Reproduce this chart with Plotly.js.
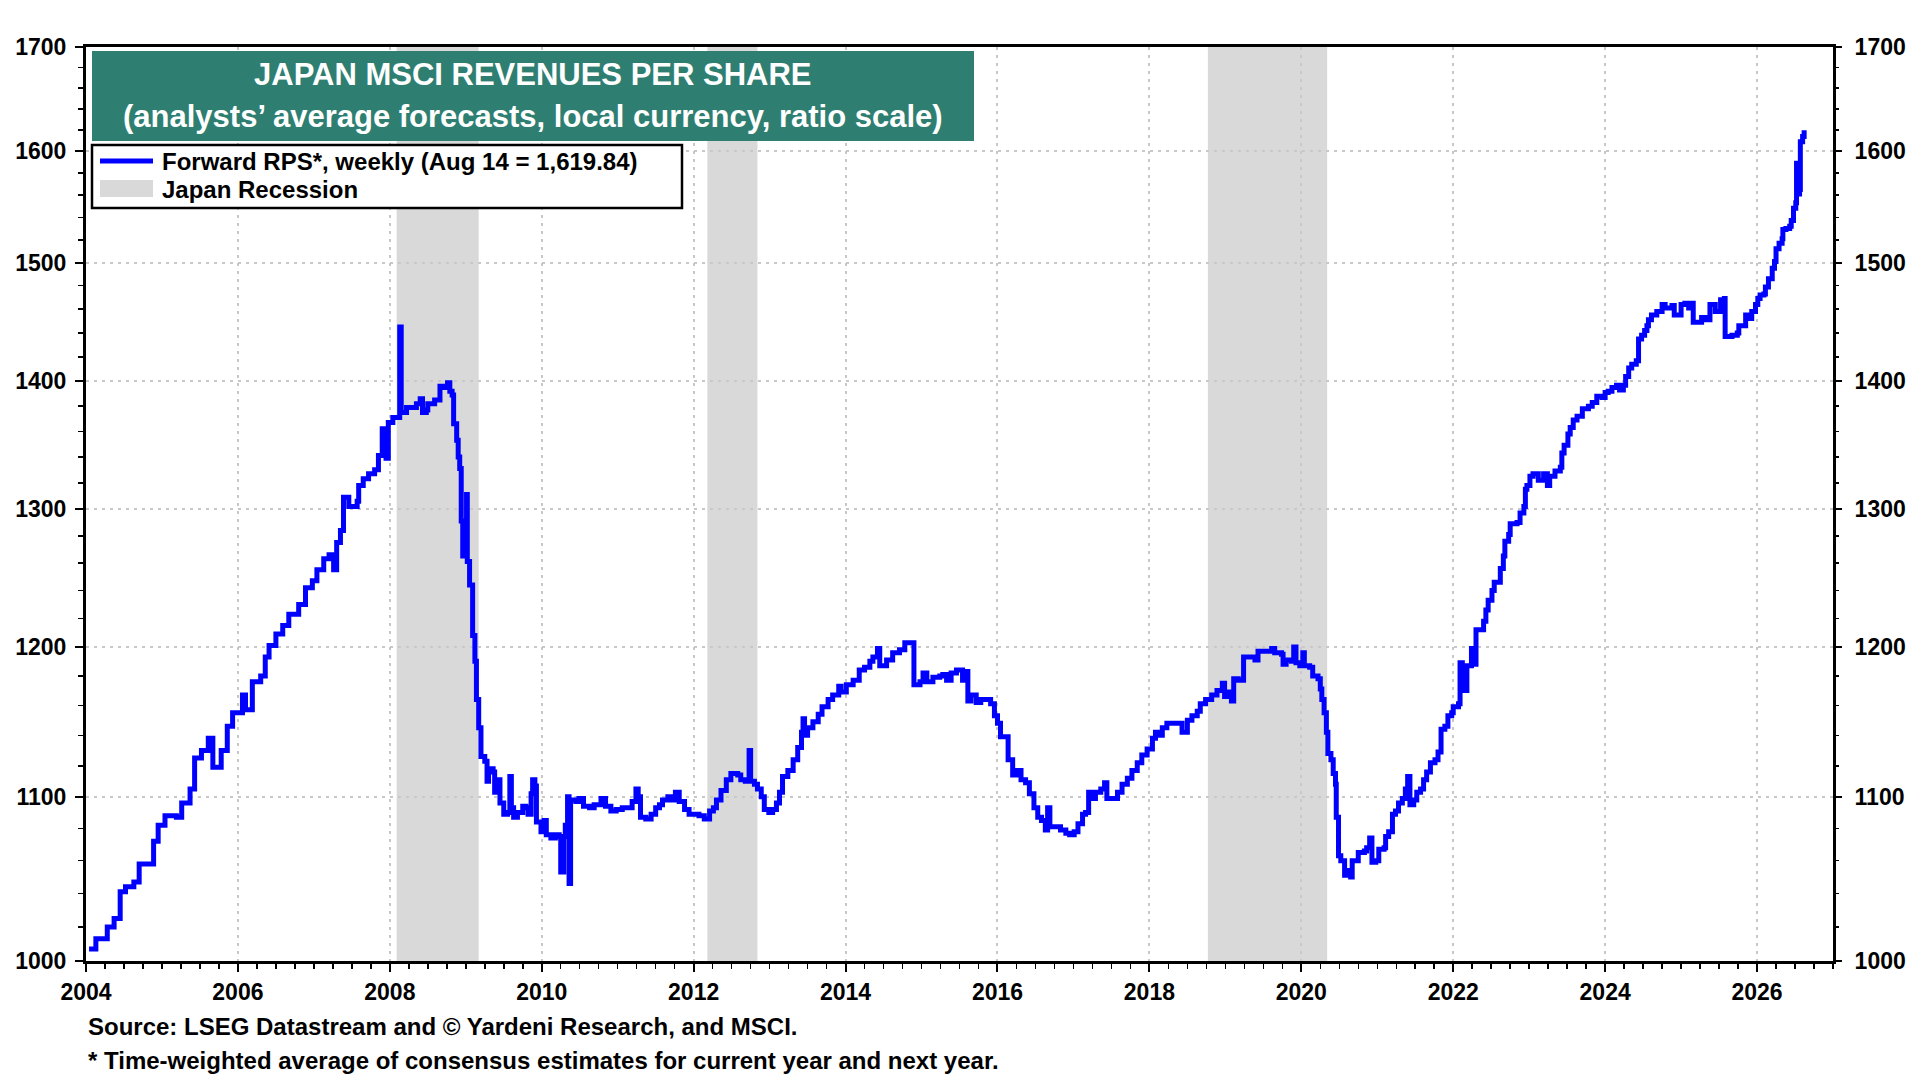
<!DOCTYPE html>
<html>
<head>
<meta charset="utf-8">
<script src="https://cdn.plot.ly/plotly-3.0.1.min.js"></script>
<style>
	body { margin: 0; background: #ffffff; }
	#chart { width: 1920px; height: 1080px; }
</style>
</head>
<body>
<div id="chart"></div>
<script>
// Forward RPS (decimal year, value)
var years = [
	2004.04, 2004.13, 2004.28, 2004.37, 2004.45, 2004.52, 2004.63, 2004.70, 2004.89, 2004.95,
	2005.04, 2005.19, 2005.26, 2005.37, 2005.43, 2005.52, 2005.61, 2005.67, 2005.78, 2005.86,
	2005.93, 2006.06, 2006.10, 2006.19, 2006.30, 2006.36, 2006.41, 2006.50, 2006.59, 2006.67,
	2006.80, 2006.89, 2006.98, 2007.04, 2007.13, 2007.20, 2007.26, 2007.30, 2007.35, 2007.39,
	2007.46, 2007.57, 2007.59, 2007.65, 2007.72, 2007.80, 2007.85, 2007.90, 2007.95, 2007.98,
	2008.04, 2008.08, 2008.13, 2008.15, 2008.22, 2008.35, 2008.40, 2008.43, 2008.48, 2008.50,
	2008.59, 2008.66, 2008.71, 2008.76, 2008.79, 2008.82, 2008.84, 2008.88, 2008.90, 2008.92,
	2008.94, 2008.96, 2008.98, 2009.01, 2009.02, 2009.05, 2009.09, 2009.12, 2009.14, 2009.17,
	2009.20, 2009.25, 2009.28, 2009.30, 2009.36, 2009.38, 2009.42, 2009.45, 2009.50, 2009.55,
	2009.58, 2009.60, 2009.63, 2009.68, 2009.75, 2009.79, 2009.82, 2009.86, 2009.88, 2009.91,
	2009.93, 2009.99, 2010.03, 2010.06, 2010.12, 2010.18, 2010.23, 2010.25, 2010.29, 2010.31,
	2010.34, 2010.36, 2010.38, 2010.45, 2010.49, 2010.55, 2010.63, 2010.69, 2010.78, 2010.84,
	2010.91, 2010.98, 2011.06, 2011.13, 2011.19, 2011.24, 2011.27, 2011.30, 2011.37, 2011.44,
	2011.50, 2011.55, 2011.59, 2011.66, 2011.71, 2011.76, 2011.81, 2011.88, 2011.94, 2012.01,
	2012.07, 2012.14, 2012.21, 2012.26, 2012.30, 2012.36, 2012.43, 2012.49, 2012.58, 2012.62,
	2012.68, 2012.73, 2012.75, 2012.80, 2012.84, 2012.89, 2012.93, 2012.99, 2013.04, 2013.09,
	2013.13, 2013.17, 2013.24, 2013.31, 2013.37, 2013.42, 2013.44, 2013.46, 2013.50, 2013.57,
	2013.64, 2013.69, 2013.77, 2013.83, 2013.91, 2013.94, 2014.01, 2014.10, 2014.18, 2014.25,
	2014.32, 2014.36, 2014.42, 2014.45, 2014.54, 2014.62, 2014.71, 2014.78, 2014.87, 2014.90,
	2014.98, 2015.02, 2015.07, 2015.15, 2015.24, 2015.28, 2015.33, 2015.39, 2015.46, 2015.54,
	2015.58, 2015.61, 2015.65, 2015.72, 2015.78, 2015.87, 2015.91, 2015.96, 2016.00, 2016.04,
	2016.11, 2016.14, 2016.20, 2016.26, 2016.31, 2016.37, 2016.42, 2016.48, 2016.53, 2016.58,
	2016.63, 2016.66, 2016.69, 2016.77, 2016.83, 2016.90, 2016.95, 2017.01, 2017.06, 2017.12,
	2017.16, 2017.20, 2017.25, 2017.29, 2017.36, 2017.41, 2017.44, 2017.51, 2017.58, 2017.64,
	2017.71, 2017.77, 2017.84, 2017.90, 2017.97, 2018.04, 2018.08, 2018.12, 2018.17, 2018.23,
	2018.30, 2018.36, 2018.43, 2018.50, 2018.56, 2018.63, 2018.67, 2018.74, 2018.82, 2018.89,
	2018.96, 2018.99, 2019.04, 2019.08, 2019.11, 2019.17, 2019.24, 2019.35, 2019.39, 2019.43,
	2019.50, 2019.57, 2019.61, 2019.65, 2019.74, 2019.76, 2019.80, 2019.87, 2019.90, 2019.93,
	2019.98, 2020.02, 2020.04, 2020.11, 2020.15, 2020.22, 2020.25, 2020.27, 2020.30, 2020.33,
	2020.35, 2020.39, 2020.42, 2020.45, 2020.46, 2020.49, 2020.52, 2020.57, 2020.61, 2020.65,
	2020.67, 2020.72, 2020.75, 2020.83, 2020.86, 2020.90, 2020.93, 2020.98, 2021.02, 2021.09,
	2021.11, 2021.15, 2021.20, 2021.24, 2021.28, 2021.33, 2021.37, 2021.40, 2021.43, 2021.48,
	2021.52, 2021.57, 2021.61, 2021.65, 2021.70, 2021.76, 2021.80, 2021.84, 2021.89, 2021.93,
	2021.98, 2022.00, 2022.07, 2022.09, 2022.12, 2022.18, 2022.24, 2022.28, 2022.30, 2022.35,
	2022.40, 2022.43, 2022.46, 2022.51, 2022.54, 2022.59, 2022.62, 2022.66, 2022.68, 2022.73,
	2022.75, 2022.84, 2022.88, 2022.93, 2022.95, 2022.97, 2023.01, 2023.05, 2023.12, 2023.19,
	2023.24, 2023.27, 2023.34, 2023.41, 2023.43, 2023.46, 2023.51, 2023.54, 2023.58, 2023.63,
	2023.67, 2023.70, 2023.78, 2023.83, 2023.89, 2023.96, 2024.00, 2024.04, 2024.09, 2024.15,
	2024.19, 2024.24, 2024.27, 2024.31, 2024.35, 2024.41, 2024.44, 2024.48, 2024.52, 2024.55,
	2024.57, 2024.61, 2024.68, 2024.75, 2024.79, 2024.88, 2024.91, 2024.97, 2025.00, 2025.05,
	2025.10, 2025.14, 2025.16, 2025.21, 2025.25, 2025.27, 2025.32, 2025.38, 2025.45, 2025.52,
	2025.57, 2025.58, 2025.64, 2025.67, 2025.74, 2025.76, 2025.83, 2025.85, 2025.88, 2025.93,
	2025.98, 2026.01, 2026.04, 2026.09, 2026.11, 2026.15, 2026.20, 2026.23, 2026.25, 2026.29,
	2026.33, 2026.34, 2026.38, 2026.43, 2026.45, 2026.48, 2026.51, 2026.52, 2026.54, 2026.56,
	2026.57, 2026.60, 2026.62
];
var rps = [
	1007, 1013, 1020, 1025, 1041, 1044, 1047, 1058, 1072, 1082,
	1088, 1087, 1096, 1105, 1125, 1130, 1138, 1119, 1130, 1146,
	1155, 1167, 1157, 1176, 1180, 1193, 1201, 1209, 1215, 1223,
	1230, 1242, 1247, 1255, 1263, 1266, 1255, 1275, 1284, 1309,
	1302, 1306, 1318, 1323, 1327, 1330, 1341, 1362, 1339, 1367,
	1371, 1371, 1445, 1375, 1379, 1382, 1386, 1375, 1377, 1382,
	1385, 1396, 1395, 1399, 1392, 1389, 1366, 1353, 1340, 1331,
	1291, 1265, 1279, 1311, 1261, 1244, 1208, 1190, 1164, 1145,
	1126, 1123, 1110, 1118, 1116, 1103, 1111, 1096, 1089, 1090,
	1113, 1093, 1087, 1090, 1094, 1093, 1089, 1102, 1111, 1107,
	1084, 1078, 1085, 1076, 1074, 1076, 1075, 1053, 1075, 1082,
	1100, 1046, 1098, 1097, 1099, 1094, 1093, 1095, 1099, 1094,
	1091, 1092, 1093, 1093, 1097, 1105, 1100, 1087, 1086, 1089,
	1093, 1095, 1098, 1100, 1098, 1103, 1097, 1092, 1089, 1089,
	1088, 1086, 1091, 1093, 1098, 1104, 1111, 1115, 1114, 1111,
	1110, 1130, 1110, 1108, 1105, 1100, 1092, 1090, 1092, 1096,
	1103, 1113, 1117, 1124, 1132, 1142, 1151, 1140, 1145, 1149,
	1154, 1159, 1164, 1167, 1173, 1169, 1174, 1177, 1184, 1186,
	1190, 1193, 1199, 1187, 1191, 1196, 1198, 1203, 1203, 1174,
	1176, 1182, 1176, 1179, 1180, 1181, 1177, 1182, 1184, 1177,
	1183, 1163, 1167, 1162, 1164, 1164, 1161, 1153, 1148, 1139,
	1139, 1124, 1114, 1117, 1111, 1109, 1102, 1093, 1087, 1085,
	1079, 1093, 1081, 1081, 1079, 1077, 1076, 1078, 1083, 1089,
	1090, 1103, 1099, 1103, 1105, 1109, 1099, 1099, 1103, 1108,
	1112, 1117, 1122, 1127, 1131, 1138, 1142, 1140, 1145, 1148,
	1148, 1148, 1142, 1150, 1153, 1156, 1161, 1164, 1167, 1170,
	1175, 1166, 1169, 1163, 1178, 1177, 1193, 1193, 1191, 1197,
	1197, 1197, 1199, 1196, 1195, 1188, 1191, 1190, 1200, 1189,
	1187, 1196, 1187, 1186, 1180, 1178, 1171, 1164, 1155, 1142,
	1128, 1124, 1115, 1108, 1087, 1063, 1060, 1051, 1054, 1050,
	1060, 1060, 1065, 1066, 1068, 1074, 1059, 1060, 1067, 1068,
	1075, 1078, 1089, 1091, 1096, 1099, 1105, 1113, 1095, 1098,
	1103, 1105, 1111, 1116, 1122, 1124, 1129, 1144, 1146, 1153,
	1155, 1159, 1161, 1189, 1170, 1187, 1199, 1188, 1212, 1212,
	1218, 1226, 1233, 1240, 1246, 1246, 1256, 1265, 1276, 1281,
	1289, 1290, 1297, 1302, 1315, 1318, 1325, 1327, 1322, 1327,
	1318, 1325, 1329, 1332, 1343, 1349, 1358, 1363, 1369, 1372,
	1372, 1378, 1380, 1383, 1388, 1387, 1391, 1392, 1395, 1397,
	1393, 1397, 1404, 1411, 1414, 1417, 1435, 1438, 1442, 1446,
	1451, 1455, 1458, 1464, 1461, 1463, 1455, 1455, 1464, 1465,
	1461, 1465, 1449, 1449, 1449, 1453, 1451, 1464, 1458, 1468,
	1469, 1437, 1437, 1438, 1440, 1446, 1446, 1455, 1452, 1458,
	1464, 1469, 1472, 1473, 1479, 1486, 1495, 1501, 1512, 1517,
	1521, 1529, 1530, 1532, 1537, 1548, 1553, 1589, 1561, 1565,
	1609, 1614, 1619.84
];

// Japan recessions
var recessionStart = [2008.09, 2012.18, 2018.77];
var recessionEnd = [2009.17, 2012.84, 2020.34];

// ticks
var xTickVals = [2004, 2006, 2008, 2010, 2012, 2014, 2016, 2018, 2020, 2022, 2024, 2026];
var xTickText = ["2004", "2006", "2008", "2010", "2012", "2014", "2016", "2018", "2020", "2022", "2024", "2026"];
var yTickVals = [1000, 1100, 1200, 1300, 1400, 1500, 1600, 1700];
var yTickText = ["1000", "1100", "1200", "1300", "1400", "1500", "1600", "1700"];

var titleLines = ["JAPAN MSCI REVENUES PER SHARE", "(analysts\u2019 average forecasts, local currency, ratio scale)"];
var legendLabels = ["Forward RPS*, weekly (Aug 14 = 1,619.84)", "Japan Recession"];
var footnotes = ["Source: LSEG Datastream and \u00a9 Yardeni Research, and MSCI.",
	"* Time-weighted average of consensus estimates for current year and next year."];

function drawChart(){
	var FONT = "Liberation Sans, Arial, sans-serif";
	var GREEN = "#2e7f71";
	var SHADE = "#d9d9d9";

	// plot area in pixels: left 86, right 1833, top 47, bottom 961
	var L = 86, R = 1833, T = 47, B = 961;
	function px(x){ return (x - L) / (R - L); }
	function py(y){ return (B - y) / (B - T); }

	var yMinor = [];
	for (var v = 1020; v < 1700; v += 20){
		if (v % 100 != 0) yMinor.push(v);
	}

	var main = {
		x: years,
		y: rps,
		type: "scatter",
		mode: "lines",
		line: {color: "#0000ff", width: 5, shape: "hv"},
		hoverinfo: "x+y",
		showlegend: false
	};
	// invisible copy so the right hand axis gets drawn
	var ghost = {
		x: years,
		y: rps,
		yaxis: "y2",
		type: "scatter",
		mode: "lines",
		opacity: 0,
		line: {width: 1},
		hoverinfo: "skip",
		showlegend: false
	};

	var shapes = [];
	var i;
	for (i = 0; i < recessionStart.length; i++){
		shapes.push({
			type: "rect", xref: "x", yref: "paper",
			x0: recessionStart[i], x1: recessionEnd[i], y0: 0, y1: 1,
			fillcolor: SHADE, line: {width: 0}, layer: "below"
		});
	}
	// title box
	shapes.push({
		type: "rect", xref: "paper", yref: "paper",
		x0: px(92), x1: px(974), y0: py(141), y1: py(51),
		fillcolor: GREEN, line: {width: 0}, layer: "above"
	});
	// legend box
	shapes.push({
		type: "rect", xref: "paper", yref: "paper",
		x0: px(92), x1: px(682), y0: py(208), y1: py(145),
		fillcolor: "#ffffff", line: {color: "#000000", width: 2.5}, layer: "above"
	});
	shapes.push({
		type: "line", xref: "paper", yref: "paper",
		x0: px(100), x1: px(153), y0: py(161), y1: py(161),
		line: {color: "#0000ff", width: 5}, layer: "above"
	});
	shapes.push({
		type: "rect", xref: "paper", yref: "paper",
		x0: px(100), x1: px(153), y0: py(197), y1: py(180),
		fillcolor: SHADE, line: {width: 0}, layer: "above"
	});

	var annotations = [];
	annotations.push({
		xref: "paper", yref: "paper", x: px(533), y: py(75),
		text: titleLines[0], showarrow: false, xanchor: "center", yanchor: "middle",
		font: {family: FONT, size: 31, color: "#ffffff", weight: "bold"}
	});
	annotations.push({
		xref: "paper", yref: "paper", x: px(533), y: py(117),
		text: titleLines[1], showarrow: false, xanchor: "center", yanchor: "middle",
		font: {family: FONT, size: 31, color: "#ffffff", weight: "bold"}
	});
	annotations.push({
		xref: "paper", yref: "paper", x: px(160), y: py(161),
		text: legendLabels[0], showarrow: false, xanchor: "left", yanchor: "middle",
		font: {family: FONT, size: 24, color: "#000000", weight: "bold"}
	});
	annotations.push({
		xref: "paper", yref: "paper", x: px(160), y: py(189),
		text: legendLabels[1], showarrow: false, xanchor: "left", yanchor: "middle",
		font: {family: FONT, size: 24, color: "#000000", weight: "bold"}
	});
	annotations.push({
		xref: "paper", yref: "paper", x: px(86), y: py(1026),
		text: footnotes[0], showarrow: false, xanchor: "left", yanchor: "middle",
		font: {family: FONT, size: 24, color: "#000000", weight: "bold"}
	});
	annotations.push({
		xref: "paper", yref: "paper", x: px(86), y: py(1060),
		text: footnotes[1], showarrow: false, xanchor: "left", yanchor: "middle",
		font: {family: FONT, size: 24, color: "#000000", weight: "bold"}
	});

	var tickFont = {family: FONT, size: 23, color: "#000000", weight: "bold"};
	var yRange = [Math.log10(1000), Math.log10(1700)];

	var layout = {
		width: 1920,
		height: 1080,
		margin: {l: L, r: 1920 - R, t: T, b: 1080 - B, pad: 0},
		paper_bgcolor: "#ffffff",
		plot_bgcolor: "#ffffff",
		showlegend: false,
		xaxis: {
			type: "linear",
			range: [2004, 2027],
			tickmode: "array",
			tickvals: xTickVals,
			ticktext: xTickText,
			ticks: "outside",
			ticklen: 8,
			tickwidth: 2,
			tickcolor: "#000000",
			ticklabelstandoff: 0,
			tickfont: tickFont,
			showline: true,
			linecolor: "#000000",
			linewidth: 3,
			mirror: true,
			showgrid: true,
			gridcolor: "#c8c8c8",
			gridwidth: 2,
			griddash: "3px,5px",
			zeroline: false,
			minor: {dtick: 0.25, ticks: "outside", ticklen: 5, tickwidth: 1.5, tickcolor: "#000000", showgrid: false}
		},
		yaxis: {
			type: "log",
			range: yRange,
			tickmode: "array",
			tickvals: yTickVals,
			ticktext: yTickText,
			ticks: "outside",
			ticklen: 8,
			tickwidth: 2,
			tickcolor: "#000000",
			ticklabelstandoff: 4,
			tickfont: tickFont,
			showline: true,
			linecolor: "#000000",
			linewidth: 3,
			mirror: true,
			showgrid: true,
			gridcolor: "#c8c8c8",
			gridwidth: 2,
			griddash: "3px,5px",
			zeroline: false,
			minor: {tickmode: "array", tickvals: yMinor, ticks: "outside", ticklen: 5, tickwidth: 1.5, tickcolor: "#000000", showgrid: false}
		},
		yaxis2: {
			type: "log",
			range: yRange,
			overlaying: "y",
			side: "right",
			tickmode: "array",
			tickvals: yTickVals,
			ticktext: yTickText,
			ticks: "outside",
			ticklen: 8,
			tickwidth: 2,
			tickcolor: "#000000",
			ticklabelstandoff: 8,
			tickfont: tickFont,
			showline: false,
			showgrid: false,
			zeroline: false,
			minor: {tickmode: "array", tickvals: yMinor, ticks: "outside", ticklen: 5, tickwidth: 1.5, tickcolor: "#000000", showgrid: false}
		},
		shapes: shapes,
		annotations: annotations
	};

	Plotly.newPlot("chart", [main, ghost], layout, {displayModeBar: false, staticPlot: true});
}

drawChart();
</script>
</body>
</html>
